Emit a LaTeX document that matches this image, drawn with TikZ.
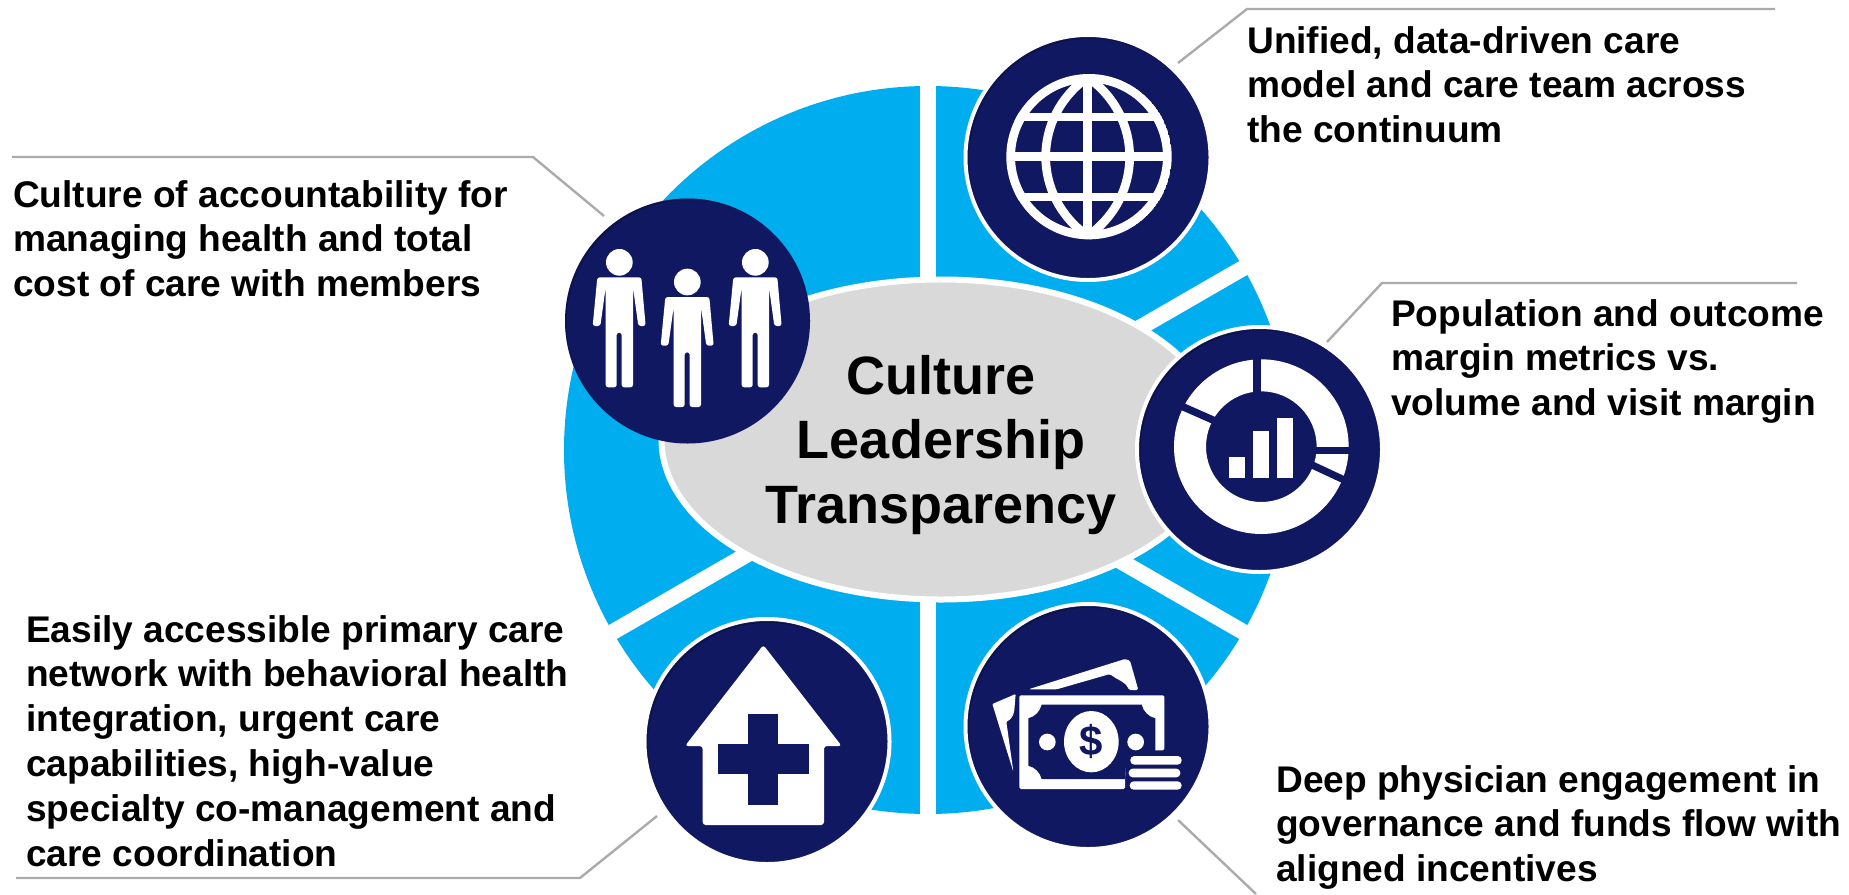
\documentclass[tikz,border=0pt]{standalone}
\usepackage{fontspec}
\usetikzlibrary{shapes.geometric}
\setmainfont{Liberation Sans}
\definecolor{navy}{HTML}{111862}
\definecolor{sky}{HTML}{00AEEF}
\definecolor{pale}{HTML}{D9D9D9}
\definecolor{leader}{HTML}{ABABAB}
\tikzset{
  lab/.style={anchor=north west,inner sep=0,align=left,font=\fontsize{37.1}{44.8}\selectfont\bfseries,text=black},
  badge/.style={circle,fill=navy,inner sep=0,minimum size=245pt,draw=white,line width=4pt},
  badgeplain/.style={circle,fill=navy,inner sep=0,minimum size=245pt},
  leadline/.style={draw=leader,line width=2.4pt},
  zoomed/.style={shift={#1},scale=1/3}
}
\newcommand{\drawperson}[2]{%
  \begin{scope}[shift={(#1,#2)}]
    \fill[white] (0,0) circle[radius=40];
    \fill[white,rounded corners=2.5pt] (-66,45) -- (66,45) -- (79,191) -- (57,191) -- (41,75) -- (41,375) -- (7,375) -- (7,211) -- (-8,211) -- (-8,375) -- (-41,375) -- (-41,75) -- (-57,191) -- (-80,191) -- cycle;
  \end{scope}}
\newcommand{\innershade}[2]{%
  \begin{scope}
    \clip (#1) circle[radius=#2];
    \fill[black,opacity=.22,even odd rule] (#1) circle[radius=#2] ([shift={(1.6,1.8)}]#1) circle[radius=#2];
  \end{scope}}
\begin{document}
\begin{tikzpicture}[x=1pt,y=-1pt]
\useasboundingbox (0,0) rectangle (1849,894);
% segmented disc
\coordinate (c) at (928,450);
\fill[sky] (c) circle[radius=364];
\foreach \a in {90,30,-30,-90,150}
  \draw[white,line width=16pt] (c) -- ++(\a:400);
% centre ellipse
\node[ellipse,draw=white,fill=pale,line width=6pt,inner sep=0,minimum width=559pt,minimum height=320pt] (hub) at (941,439.5) {};
\node[align=center,inner sep=0,font=\fontsize{54}{64.8}\selectfont\bfseries] (hubtext) at (941,445) {Culture\\Leadership\\Transparency};
% badges
\node[badgeplain] (people) at (687.5,321) {};
\node[badge] (globe) at (1088,157.5) {};
\node[badge] (chart) at (1259.5,449.5) {};
\node[badge] (money) at (1088,726.5) {};
\node[badge] (house) at (767,741.5) {};
\innershade{people.center}{122.5}
\innershade{globe.center}{120.5}
\innershade{chart.center}{120.5}
\innershade{money.center}{120.5}
\innershade{house.center}{120.5}
% leader lines
\coordinate (p1) at (12,157); \coordinate (p2) at (533,157); \coordinate (p3) at (604,216);
\coordinate (g1) at (1775,9); \coordinate (g2) at (1247,9); \coordinate (g3) at (1178,63);
\coordinate (h1) at (1797,283); \coordinate (h2) at (1382,283); \coordinate (h3) at (1327,342);
\coordinate (m1) at (1178,820); \coordinate (m2) at (1256,894);
\coordinate (o1) at (16,878); \coordinate (o2) at (580,878); \coordinate (o3) at (657,816);
\draw[leadline] (p1) -- (p2) -- (p3);
\draw[leadline] (g1) -- (g2) -- (g3);
\draw[leadline] (h1) -- (h2) -- (h3);
\draw[leadline] (m1) -- (m2);
\draw[leadline] (o1) -- (o2) -- (o3);
% labels
\node[lab] (tp) at (13,180) {Culture of accountability for\\managing health and total\\cost of care with members};
\node[lab] (tg) at (1247,26) {Unified, data-driven care\\model and care team across\\the continuum};
\node[lab] (th) at (1391,299) {Population and outcome\\margin metrics vs.\\volume and visit margin};
\node[lab] (tm) at (1276,765) {Deep physician engagement in\\governance and funds flow with\\aligned incentives};
\node[lab] (to) at (26,615) {Easily accessible primary care\\network with behavioral health\\integration, urgent care\\capabilities, high-value\\specialty co-management and\\care coordination};
% people icon
\begin{scope}[zoomed={(540,180)}]
  \drawperson{238}{247}
  \drawperson{442}{306}
  \drawperson{646}{247}
\end{scope}
% globe icon
\begin{scope}[zoomed={(950,20)}]
  \begin{scope}[shift={(417,410)}]
    \clip (0,0) circle[radius=248];
    \draw[white,line width=8.7pt] (0,0) circle[radius=235];
    \draw[white,line width=8.7pt] (-4,-240) -- (-4,240);
    \draw[white,line width=8.7pt] (-240,0) -- (240,0);
    \draw[white,line width=8.7pt] (-225,-119) -- (225,-119);
    \draw[white,line width=8.7pt] (-225,121) -- (225,121);
    \draw[white,line width=8.7pt] (-4,-238) .. controls (164,-120) and (164,120) .. (-4,238);
    \draw[white,line width=8.7pt] (-4,-238) .. controls (-172,-120) and (-172,120) .. (-4,238);
  \end{scope}
\end{scope}
% chart icon
\begin{scope}[zoomed={(1120,310)}]
  \fill[white,even odd rule] (424,410) circle[radius=262] (424,410) circle[radius=166];
  \draw[navy,line width=7.7pt] (412,130) -- (412,260);
  \draw[navy,line width=7.4pt] (170,282) -- (290,335);
  \draw[navy,line width=7.2pt] (575,422) -- (700,422);
  \draw[navy,line width=7.2pt] (570,462) -- (690,518);
  \fill[white] (327,440) rectangle (375,503);
  \fill[white] (399,363) rectangle (447,503);
  \fill[white] (471,324) rectangle (519,503);
\end{scope}
% money icon
\begin{scope}[zoomed={(950,590)}]
  \fill[white,rounded corners=1.5pt] (235,298) -- (525,207) -- (540,212) -- (565,300) -- (537,300) .. controls (525,272) and (500,270) .. (480,252) -- (320,298) -- cycle;
  \fill[white,rounded corners=1pt] (127,342) -- (197,312) -- (193,360) .. controls (190,380) and (180,390) .. (169,395) -- (190,545) -- cycle;
  \fill[white,rounded corners=1.5pt] (208,316) -- (643,316) -- (643,481) -- (527,481) -- (525,597) -- (208,597) -- cycle;
  \fill[navy] (275,344) -- (575,344) .. controls (580,365) and (595,380) .. (616,385) -- (616,490) -- (530,490) -- (525,567) -- (275,567) .. controls (270,547) and (255,532) .. (235,527) -- (235,385) .. controls (255,380) and (270,365) .. (275,344) -- cycle;
  \fill[white] (424,455) ellipse[x radius=82,y radius=92];
  \fill[white] (292,456) circle[radius=25];
  \fill[white] (557,456) circle[radius=25];
  \fill[white,rounded corners=4pt] (541,498) rectangle (695,524);
  \fill[white,rounded corners=4pt] (536,536) rectangle (691,562);
  \fill[white,rounded corners=4pt] (539,574) rectangle (695,599);
  \node[text=navy,inner sep=0,font=\fontsize{42}{42}\selectfont\bfseries] (dollar) at (424,455) {\$};
\end{scope}
% house icon
\begin{scope}[zoomed={(620,590)}]
  \fill[white,rounded corners=3pt] (430,165) -- (195,468) -- (248,468) -- (248,705) -- (612,705) -- (612,468) -- (665,468) -- cycle;
  \fill[navy] (385,372) rectangle (475,645);
  \fill[navy] (293,463) rectangle (567,553);
\end{scope}
\end{tikzpicture}
\end{document}
